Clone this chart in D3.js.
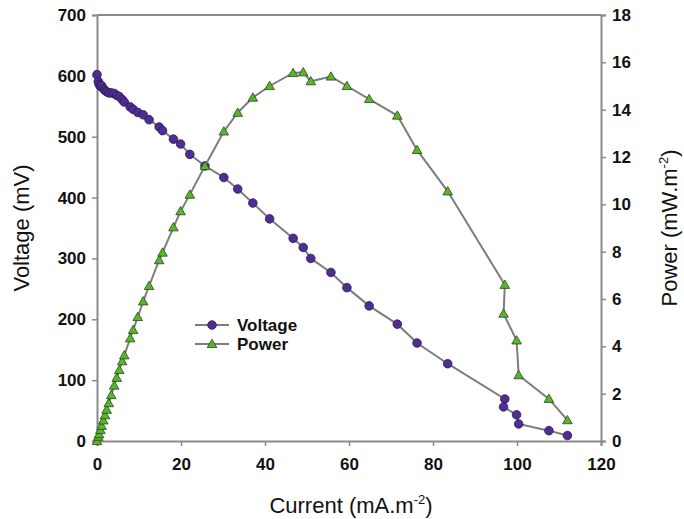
<!DOCTYPE html>
<html>
<head>
<meta charset="utf-8">
<script src="https://cdn.jsdelivr.net/npm/d3@7"></script>
<style>
  html, body { margin: 0; padding: 0; background: #ffffff; }
  svg { display: block; }
  text { font-family: "Liberation Sans", Arial, sans-serif; fill: #111; }
</style>
</head>
<body>
<div id="chart"></div>
<script>
// Polarisation data: current density (mA.m-2), cell voltage (mV), power density (mW.m-2)
const current = [0, 0.3, 0.5, 0.8, 1.1, 1.5, 1.9, 2.3, 2.8, 3.4, 4.1, 4.7, 5.3, 6.0, 6.5,
  7.9, 8.6, 9.7, 11.0, 12.4, 14.8, 15.6, 18.2, 19.9, 22.1, 25.7, 30.2, 33.5, 37.1, 41.1,
  46.7, 49.1, 50.9, 55.7, 59.5, 64.8, 71.5, 76.2, 83.5, 97.1, 96.8, 99.9, 100.4, 107.6, 112.0];
const voltage = [602, 591, 586, 583, 584, 579, 576, 574, 572, 572, 571, 568, 566, 561, 557,
  549, 545, 540, 536, 528, 516, 510, 496, 488, 471, 452, 433, 414, 391, 365,
  333, 318, 300, 277, 252, 222, 192, 161, 127, 69, 56, 43, 28, 17, 9];
const power = [0, 0.18, 0.29, 0.47, 0.64, 0.87, 1.09, 1.32, 1.6, 1.94, 2.34, 2.67, 3.0, 3.37, 3.62,
  4.34, 4.69, 5.24, 5.9, 6.55, 7.64, 7.96, 9.03, 9.71, 10.41, 11.62, 13.08, 13.87, 14.51, 15.0,
  15.55, 15.58, 15.2, 15.4, 15.0, 14.45, 13.75, 12.3, 10.55, 6.6, 5.38, 4.25, 2.78, 1.78, 0.88];

const xTicks = [0, 20, 40, 60, 80, 100, 120];
const voltageTicks = [0, 100, 200, 300, 400, 500, 600, 700];
const powerTicks = [0, 2, 4, 6, 8, 10, 12, 14, 16, 18];
const seriesNames = ["Voltage", "Power"];

const W = 684, H = 519;
const plot = { left: 97, right: 601, top: 15, bottom: 441 };
const axisColor = "#8a8a8a";
const lineColor = "#7d7d7d";
const voltFill = "#4f2d93", voltStroke = "#2a1656";
const powFill = "#5bb52c", powStroke = "#24491a";

const svg = d3.select("#chart").append("svg")
  .attr("width", W).attr("height", H);

const x = d3.scaleLinear().domain([0, 120]).range([plot.left, plot.right]);
const yV = d3.scaleLinear().domain([0, 700]).range([plot.bottom, plot.top]);
const yP = d3.scaleLinear().domain([0, 18]).range([plot.bottom, plot.top]);

function styleAxis(g) {
  g.select(".domain").attr("stroke", axisColor).attr("stroke-width", 2);
  g.selectAll(".tick line").attr("stroke", axisColor).attr("stroke-width", 1.5);
  g.selectAll(".tick text")
    .style("font-family", "'Liberation Sans', Arial, sans-serif")
    .style("font-size", "17px").style("font-weight", "bold").attr("fill", "#111");
}

// top frame line
svg.append("line")
  .attr("x1", plot.left).attr("x2", plot.right)
  .attr("y1", plot.top).attr("y2", plot.top)
  .attr("stroke", axisColor).attr("stroke-width", 2);

svg.append("g").attr("transform", `translate(0,${plot.bottom})`)
  .call(d3.axisBottom(x).tickValues(xTicks).tickSizeOuter(0).tickSize(5).tickPadding(12))
  .call(styleAxis);

svg.append("g").attr("transform", `translate(${plot.left},0)`)
  .call(d3.axisLeft(yV).tickValues(voltageTicks).tickSizeOuter(0).tickSize(5).tickPadding(6))
  .call(styleAxis);

svg.append("g").attr("transform", `translate(${plot.right},0)`)
  .call(d3.axisRight(yP).tickValues(powerTicks).tickSizeOuter(0).tickSize(5).tickPadding(6))
  .call(styleAxis);

// axis titles
const titleFont = "22px";
svg.append("text")
  .attr("transform", "translate(29,228) rotate(-90)")
  .attr("text-anchor", "middle").style("font-size", titleFont)
  .text("Voltage (mV)");

const pt = svg.append("text")
  .attr("transform", "translate(677,228) rotate(-90)")
  .attr("text-anchor", "middle").style("font-size", titleFont);
pt.append("tspan").text("Power (mW.m");
pt.append("tspan").attr("dy", -9).style("font-size", "13px").text("-2");
pt.append("tspan").attr("dy", 9).text(")");

const ct = svg.append("text")
  .attr("x", 351).attr("y", 513)
  .attr("text-anchor", "middle").style("font-size", titleFont);
ct.append("tspan").text("Current (mA.m");
ct.append("tspan").attr("dy", -9).style("font-size", "13px").text("-2");
ct.append("tspan").attr("dy", 9).text(")");

const data = current.map((c, i) => ({ c, v: voltage[i], p: power[i] }));

// voltage series
svg.append("path").datum(data)
  .attr("fill", "none").attr("stroke", lineColor).attr("stroke-width", 2)
  .attr("d", d3.line().x(d => x(d.c)).y(d => yV(d.v)));
svg.append("g").selectAll("circle").data(data).join("circle")
  .attr("cx", d => x(d.c)).attr("cy", d => yV(d.v)).attr("r", 4.3)
  .attr("fill", voltFill).attr("stroke", voltStroke).attr("stroke-width", 0.8);

// power series
const tri = d3.symbol().type(d3.symbolTriangle).size(40);
svg.append("path").datum(data)
  .attr("fill", "none").attr("stroke", lineColor).attr("stroke-width", 2)
  .attr("d", d3.line().x(d => x(d.c)).y(d => yP(d.p)));
svg.append("g").selectAll("path").data(data).join("path")
  .attr("d", tri)
  .attr("transform", d => `translate(${x(d.c)},${yP(d.p) + 0.8})`)
  .attr("fill", powFill).attr("stroke", powStroke).attr("stroke-width", 0.8);

// legend
const legend = svg.append("g");
seriesNames.forEach((name, i) => {
  const ly = 325 + i * 19;
  legend.append("line").attr("x1", 195).attr("x2", 229).attr("y1", ly).attr("y2", ly)
    .attr("stroke", lineColor).attr("stroke-width", 2);
  if (i === 0) {
    legend.append("circle").attr("cx", 212).attr("cy", ly).attr("r", 4.3)
      .attr("fill", voltFill).attr("stroke", voltStroke).attr("stroke-width", 0.8);
  } else {
    legend.append("path").attr("d", tri).attr("transform", `translate(212,${ly + 0.8})`)
      .attr("fill", powFill).attr("stroke", powStroke).attr("stroke-width", 0.8);
  }
  legend.append("text").attr("x", 237).attr("y", ly + 6)
    .style("font-size", "17px").style("font-weight", "bold").text(name);
});
</script>
</body>
</html>
